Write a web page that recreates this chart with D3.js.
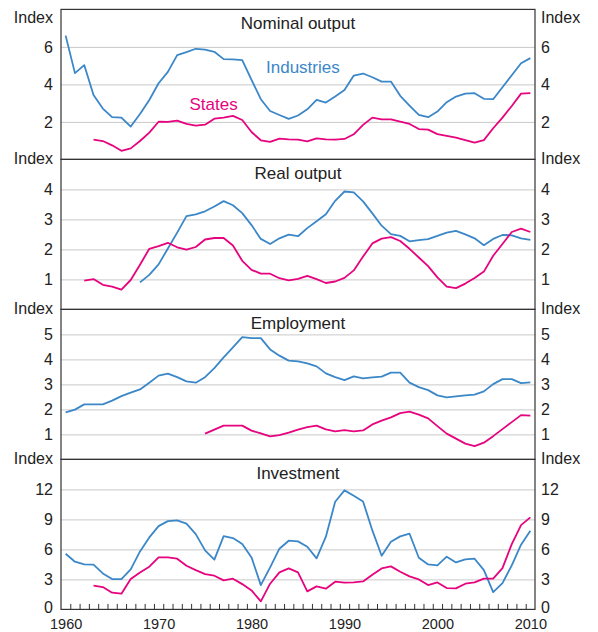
<!DOCTYPE html>
<html>
<head>
<meta charset="utf-8">
<script src="https://cdn.jsdelivr.net/npm/d3@7"></script>
<style>
  body { margin: 0; background: #fff; }
  svg { display: block; font-family: "Liberation Sans", Arial, Helvetica, sans-serif; }
</style>
</head>
<body>
<svg id="j-svg" width="598" height="632"></svg>
<script>
'use strict';

/* global d3 */

// panel set-up
var panelTitles = ['Nominal output', 'Real output', 'Employment', 'Investment'];
var yMax = [8, 5, 6, 15];
var yTicks = [[2, 4, 6], [1, 2, 3, 4], [1, 2, 3, 4, 5], [0, 3, 6, 9, 12]];
var xTickLabels = [1960, 1970, 1980, 1990, 2000, 2010];

// first year of each series, per panel
var industriesStart = [1960, 1968, 1960, 1960];
var statesStart = [1963, 1962, 1975, 1963];

// values (one per year)
var nominalIndustries = [6.6, 4.6, 5.03, 3.44, 2.71, 2.25, 2.23, 1.75, 2.42, 3.17,
  4.06, 4.67, 5.56, 5.72, 5.9, 5.85, 5.74, 5.35, 5.33, 5.3,
  4.24, 3.21, 2.58, 2.37, 2.16, 2.34, 2.67, 3.17, 3.03, 3.35,
  3.7, 4.47, 4.58, 4.38, 4.15, 4.15, 3.39, 2.87, 2.37, 2.25,
  2.55, 3.05, 3.35, 3.51, 3.53, 3.23, 3.21, 3.85, 4.49, 5.13, 5.4];
var nominalStates = [1.05, 0.98, 0.75, 0.46, 0.59, 0.98, 1.43,
  2.01, 2.0, 2.07, 1.89, 1.8, 1.85, 2.17, 2.23, 2.32, 2.1,
  1.46, 1.02, 0.93, 1.11, 1.07, 1.05, 0.96, 1.12, 1.07, 1.05,
  1.09, 1.34, 1.84, 2.23, 2.14, 2.14, 2.01, 1.89, 1.62, 1.59,
  1.35, 1.25, 1.16, 1.03, 0.89, 1.03, 1.66, 2.23, 2.85, 3.51, 3.53];

var realIndustries = [0.9, 1.15,
  1.5, 2.03, 2.56, 3.11, 3.17, 3.27, 3.43, 3.61, 3.47, 3.21,
  2.81, 2.35, 2.18, 2.37, 2.49, 2.44, 2.71, 2.94, 3.17, 3.62,
  3.93, 3.9, 3.6, 3.2, 2.79, 2.51, 2.45, 2.27, 2.31, 2.34,
  2.45, 2.56, 2.62, 2.5, 2.37, 2.14, 2.35, 2.48, 2.47, 2.37, 2.32];
var realStates = [0.96, 1.01, 0.82, 0.76, 0.66, 0.98, 1.49, 2.02,
  2.11, 2.22, 2.07, 1.99, 2.08, 2.33, 2.38, 2.38, 2.13, 1.62,
  1.32, 1.19, 1.19, 1.04, 0.97, 1.02, 1.12, 1.01, 0.88, 0.93,
  1.05, 1.3, 1.76, 2.2, 2.36, 2.41, 2.28, 2.02, 1.73, 1.44,
  1.07, 0.76, 0.71, 0.86, 1.05, 1.26, 1.79, 2.18, 2.58, 2.69, 2.58];

var employmentIndustries = [1.88, 1.99, 2.2, 2.2, 2.2, 2.35, 2.53, 2.67, 2.8, 3.07,
  3.35, 3.43, 3.29, 3.12, 3.07, 3.29, 3.65, 4.08, 4.48, 4.89,
  4.85, 4.85, 4.4, 4.15, 3.95, 3.92, 3.84, 3.72, 3.44, 3.29,
  3.17, 3.32, 3.24, 3.28, 3.31, 3.47, 3.47, 3.07, 2.89, 2.77,
  2.56, 2.48, 2.52, 2.56, 2.59, 2.72, 3.01, 3.21, 3.21, 3.05, 3.08];
var employmentStates = [1.03, 1.19, 1.35, 1.35, 1.35,
  1.15, 1.04, 0.92, 0.97, 1.07, 1.19, 1.29, 1.35, 1.2, 1.12,
  1.17, 1.12, 1.16, 1.4, 1.55, 1.68, 1.85, 1.91, 1.79, 1.64,
  1.33, 1.03, 0.83, 0.63, 0.53, 0.67, 0.93, 1.21, 1.49, 1.77, 1.75];

var investmentIndustries = [5.57, 4.77, 4.5, 4.47, 3.6, 3.03, 3.03, 4.0, 5.8, 7.2,
  8.33, 8.83, 8.9, 8.57, 7.53, 5.9, 4.97, 7.33, 7.13, 6.53,
  5.2, 2.43, 4.2, 6.07, 6.87, 6.8, 6.27, 5.1, 7.27, 10.77,
  11.9, 11.37, 10.8, 7.9, 5.37, 6.77, 7.3, 7.57, 5.17, 4.5,
  4.4, 5.27, 4.7, 5.0, 5.07, 3.93, 1.73, 2.63, 4.4, 6.47, 7.87];
var investmentStates = [2.37, 2.23, 1.67, 1.57, 3.03, 3.7, 4.27,
  5.2, 5.2, 5.07, 4.37, 3.93, 3.53, 3.37, 2.9, 3.07, 2.53,
  1.9, 0.8, 2.57, 3.7, 4.1, 3.7, 1.8, 2.3, 2.07, 2.77,
  2.67, 2.7, 2.8, 3.47, 4.1, 4.3, 3.77, 3.3, 3.0, 2.43,
  2.7, 2.13, 2.1, 2.57, 2.7, 3.07, 3.07, 4.13, 6.53, 8.43, 9.2];

var industries = [nominalIndustries, realIndustries, employmentIndustries, investmentIndustries];
var states = [nominalStates, realStates, employmentStates, investmentStates];

var blue = '#3b87c8';
var pink = '#e6037e';
var ink = '#222';

var svg = d3.select('#j-svg');
var left = 61, right = 535, top0 = 9.4, panelH = 150;

var x = d3.scaleLinear().domain([1959.5, 2010.5]).range([left, right]);

function toPoints(values, start) {
  return values.map(function (v, i) {
    return { year: start + i, value: v };
  });
}

panelTitles.forEach(function (title, i) {
  var top = top0 + i * panelH;
  var y = d3.scaleLinear().domain([0, yMax[i]]).range([top + panelH, top]);
  var g = svg.append('g');

  // gridlines + left labels
  var gl = g.append('g')
    .attr('transform', 'translate(' + right + ',0)')
    .call(d3.axisLeft(y).tickValues(yTicks[i]).tickSize(right - left).tickPadding(8).tickFormat(d3.format('d')));
  gl.select('.domain').remove();
  gl.selectAll('line').attr('stroke', '#c9c9c9').attr('stroke-width', 1)
    .filter(function (d) { return d === 0; }).remove();
  gl.selectAll('text').attr('fill', ink).style('font-size', '16px');

  // right labels
  var gr = g.append('g')
    .attr('transform', 'translate(' + right + ',0)')
    .call(d3.axisRight(y).tickValues(yTicks[i]).tickSize(0).tickPadding(6).tickFormat(d3.format('d')));
  gr.select('.domain').remove();
  gr.selectAll('text').attr('fill', ink).style('font-size', '16px');

  // keep the bottom "0" clear of the year labels
  gl.selectAll('text').filter(function (d) { return d === 0; }).attr('dy', '0.17em');
  gr.selectAll('text').filter(function (d) { return d === 0; }).attr('dy', '0.17em');

  // unit labels
  var iy = i === 0 ? 23 : top + 4.5;
  g.append('text').attr('x', 53).attr('y', iy).attr('text-anchor', 'end')
    .attr('fill', ink).style('font-size', '16px').text('Index');
  g.append('text').attr('x', 541).attr('y', iy).attr('text-anchor', 'start')
    .attr('fill', ink).style('font-size', '16px').text('Index');

  // title
  g.append('text').attr('x', (left + right) / 2).attr('y', top + 19.3)
    .attr('text-anchor', 'middle').attr('fill', ink).style('font-size', '17px').text(title);

  var line = d3.line()
    .x(function (d) { return x(d.year); })
    .y(function (d) { return y(d.value); });

  g.append('path').datum(toPoints(industries[i], industriesStart[i]))
    .attr('fill', 'none').attr('stroke', blue).attr('stroke-width', 1.8)
    .attr('stroke-linejoin', 'round').attr('d', line);
  g.append('path').datum(toPoints(states[i], statesStart[i]))
    .attr('fill', 'none').attr('stroke', pink).attr('stroke-width', 1.8)
    .attr('stroke-linejoin', 'round').attr('d', line);

  // panel frame
  g.append('rect').attr('x', left).attr('y', top).attr('width', right - left).attr('height', panelH)
    .attr('fill', 'none').attr('stroke', '#333').attr('stroke-width', 1.2);
});

// series labels
svg.append('text').attr('x', 266).attr('y', 73.3).attr('fill', blue)
  .style('font-size', '17px').text('Industries');
svg.append('text').attr('x', 189.5).attr('y', 110).attr('fill', pink)
  .style('font-size', '17px').text('States');

// x axis: year ticks between years, labels on decades
var bottom = top0 + 4 * panelH;
var xt = svg.append('g').attr('transform', 'translate(0,' + bottom + ')')
  .call(d3.axisBottom(x).tickValues(d3.range(1960.5, 2010, 1)).tickSize(-5.5).tickFormat(''));
xt.select('.domain').remove();
xt.selectAll('line').attr('stroke', '#333').attr('stroke-width', 1);

var xl = svg.append('g').attr('transform', 'translate(0,' + bottom + ')')
  .call(d3.axisBottom(x).tickValues(xTickLabels).tickSize(0).tickPadding(9).tickFormat(d3.format('d')));
xl.select('.domain').remove();
xl.selectAll('text').attr('fill', ink).style('font-size', '14.5px');
</script>
</body>
</html>
